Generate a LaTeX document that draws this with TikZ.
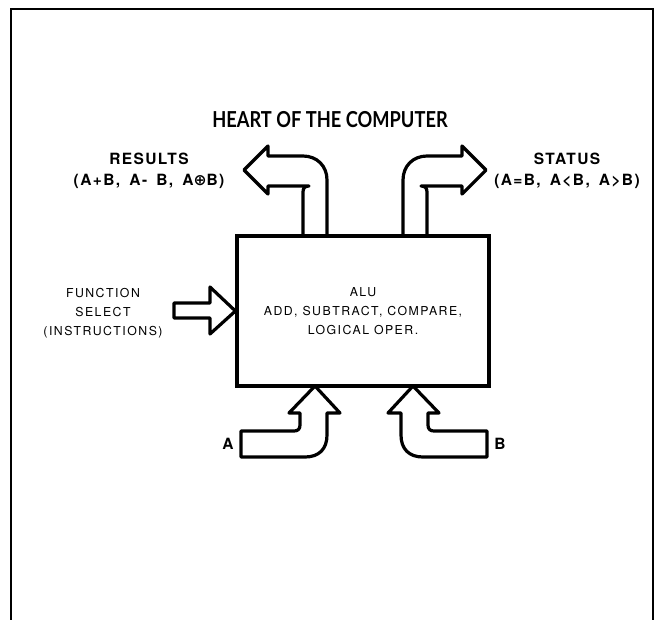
\documentclass[tikz,border=0pt]{standalone}
\usepackage{fontspec}
\usepackage{graphicx}
\setmainfont{TeX Gyre Heros}
\newfontfamily\spacedfont[LetterSpace=12]{TeX Gyre Heros}
\newfontfamily\lblfont[LetterSpace=9, WordSpace=1.6]{TeX Gyre Heros}
\newfontfamily\titlefont{Lato}
\newfontfamily\symfont{DejaVu Sans}
\usepackage{tikz}
\usetikzlibrary{positioning}

\begin{document}
\begin{tikzpicture}[x=1pt, y=-1pt,
  frame/.style={line width=2pt},
  blk/.style={line width=3.2pt, line join=round},
  lbl/.style={font=\lblfont\bfseries\fontsize{15.5}{21}\selectfont, align=center, inner sep=0pt},
  txt/.style={font=\spacedfont\fontsize{12.3}{19}\selectfont, align=center, inner sep=0pt}
]
\useasboundingbox (0,0) rectangle (660,619);
\draw[frame] (11,625) -- (11,9) -- (653,9) -- (653,625);

\node[font=\titlefont\bfseries\fontsize{22}{24}\selectfont] (title) at (330,120)
  {\scalebox{0.83}[1]{HEART OF THE COMPUTER}};

% the ALU itself
\node[draw, line width=3.2pt, minimum width=252pt, minimum height=150pt, txt] (alu) at (363,311)
  {ALU\\ADD, SUBTRACT, COMPARE,\\LOGICAL OPER.};

% outputs on top, inputs below (left one mirrored to the right)
\foreach \s in {1,-1}{
  \begin{scope}[shift={(365,0)}, xscale=\s]
    \draw[blk] (-38,236) -- (-38,180) .. controls (-38,166) and (-48,156) .. (-62,156)
      -- (-97,156) -- (-97,146) -- (-121,170) -- (-97,194) -- (-97,186) -- (-56,186)
      .. controls (-60,186) and (-62,188) .. (-62,192) -- (-62,236);
  \end{scope}
  \begin{scope}[shift={(364,0)}, xscale=\s]
    \draw[blk] (-49,386) -- (-24,413) -- (-37,413) -- (-37,435)
      .. controls (-37,449) and (-45,457) .. (-59,457) -- (-123,457) -- (-123,431)
      -- (-70,431) .. controls (-66,431) and (-64,429) .. (-64,425) -- (-64,413)
      -- (-75,413) -- cycle;
  \end{scope}
}

% function select
\draw[blk] (174,303) -- (210,303) -- (210,287) -- (alu.west) -- (210,334) -- (210,318) -- (174,318) -- cycle;

\node[lbl] (results) at (149,171) {RESULTS\\(A+B, A- B, A{\symfont\bfseries ⊕}B)};
\node[lbl] (status) at (567,171) {STATUS\\(A=B, A<B, A>B)};
\node[txt] (func) at (103,313) {FUNCTION\\SELECT\\(INSTRUCTIONS)};
\node[lbl] (ina) at (228,444) {A};
\node[lbl] (inb) at (500,444) {B};
\end{tikzpicture}
\end{document}
